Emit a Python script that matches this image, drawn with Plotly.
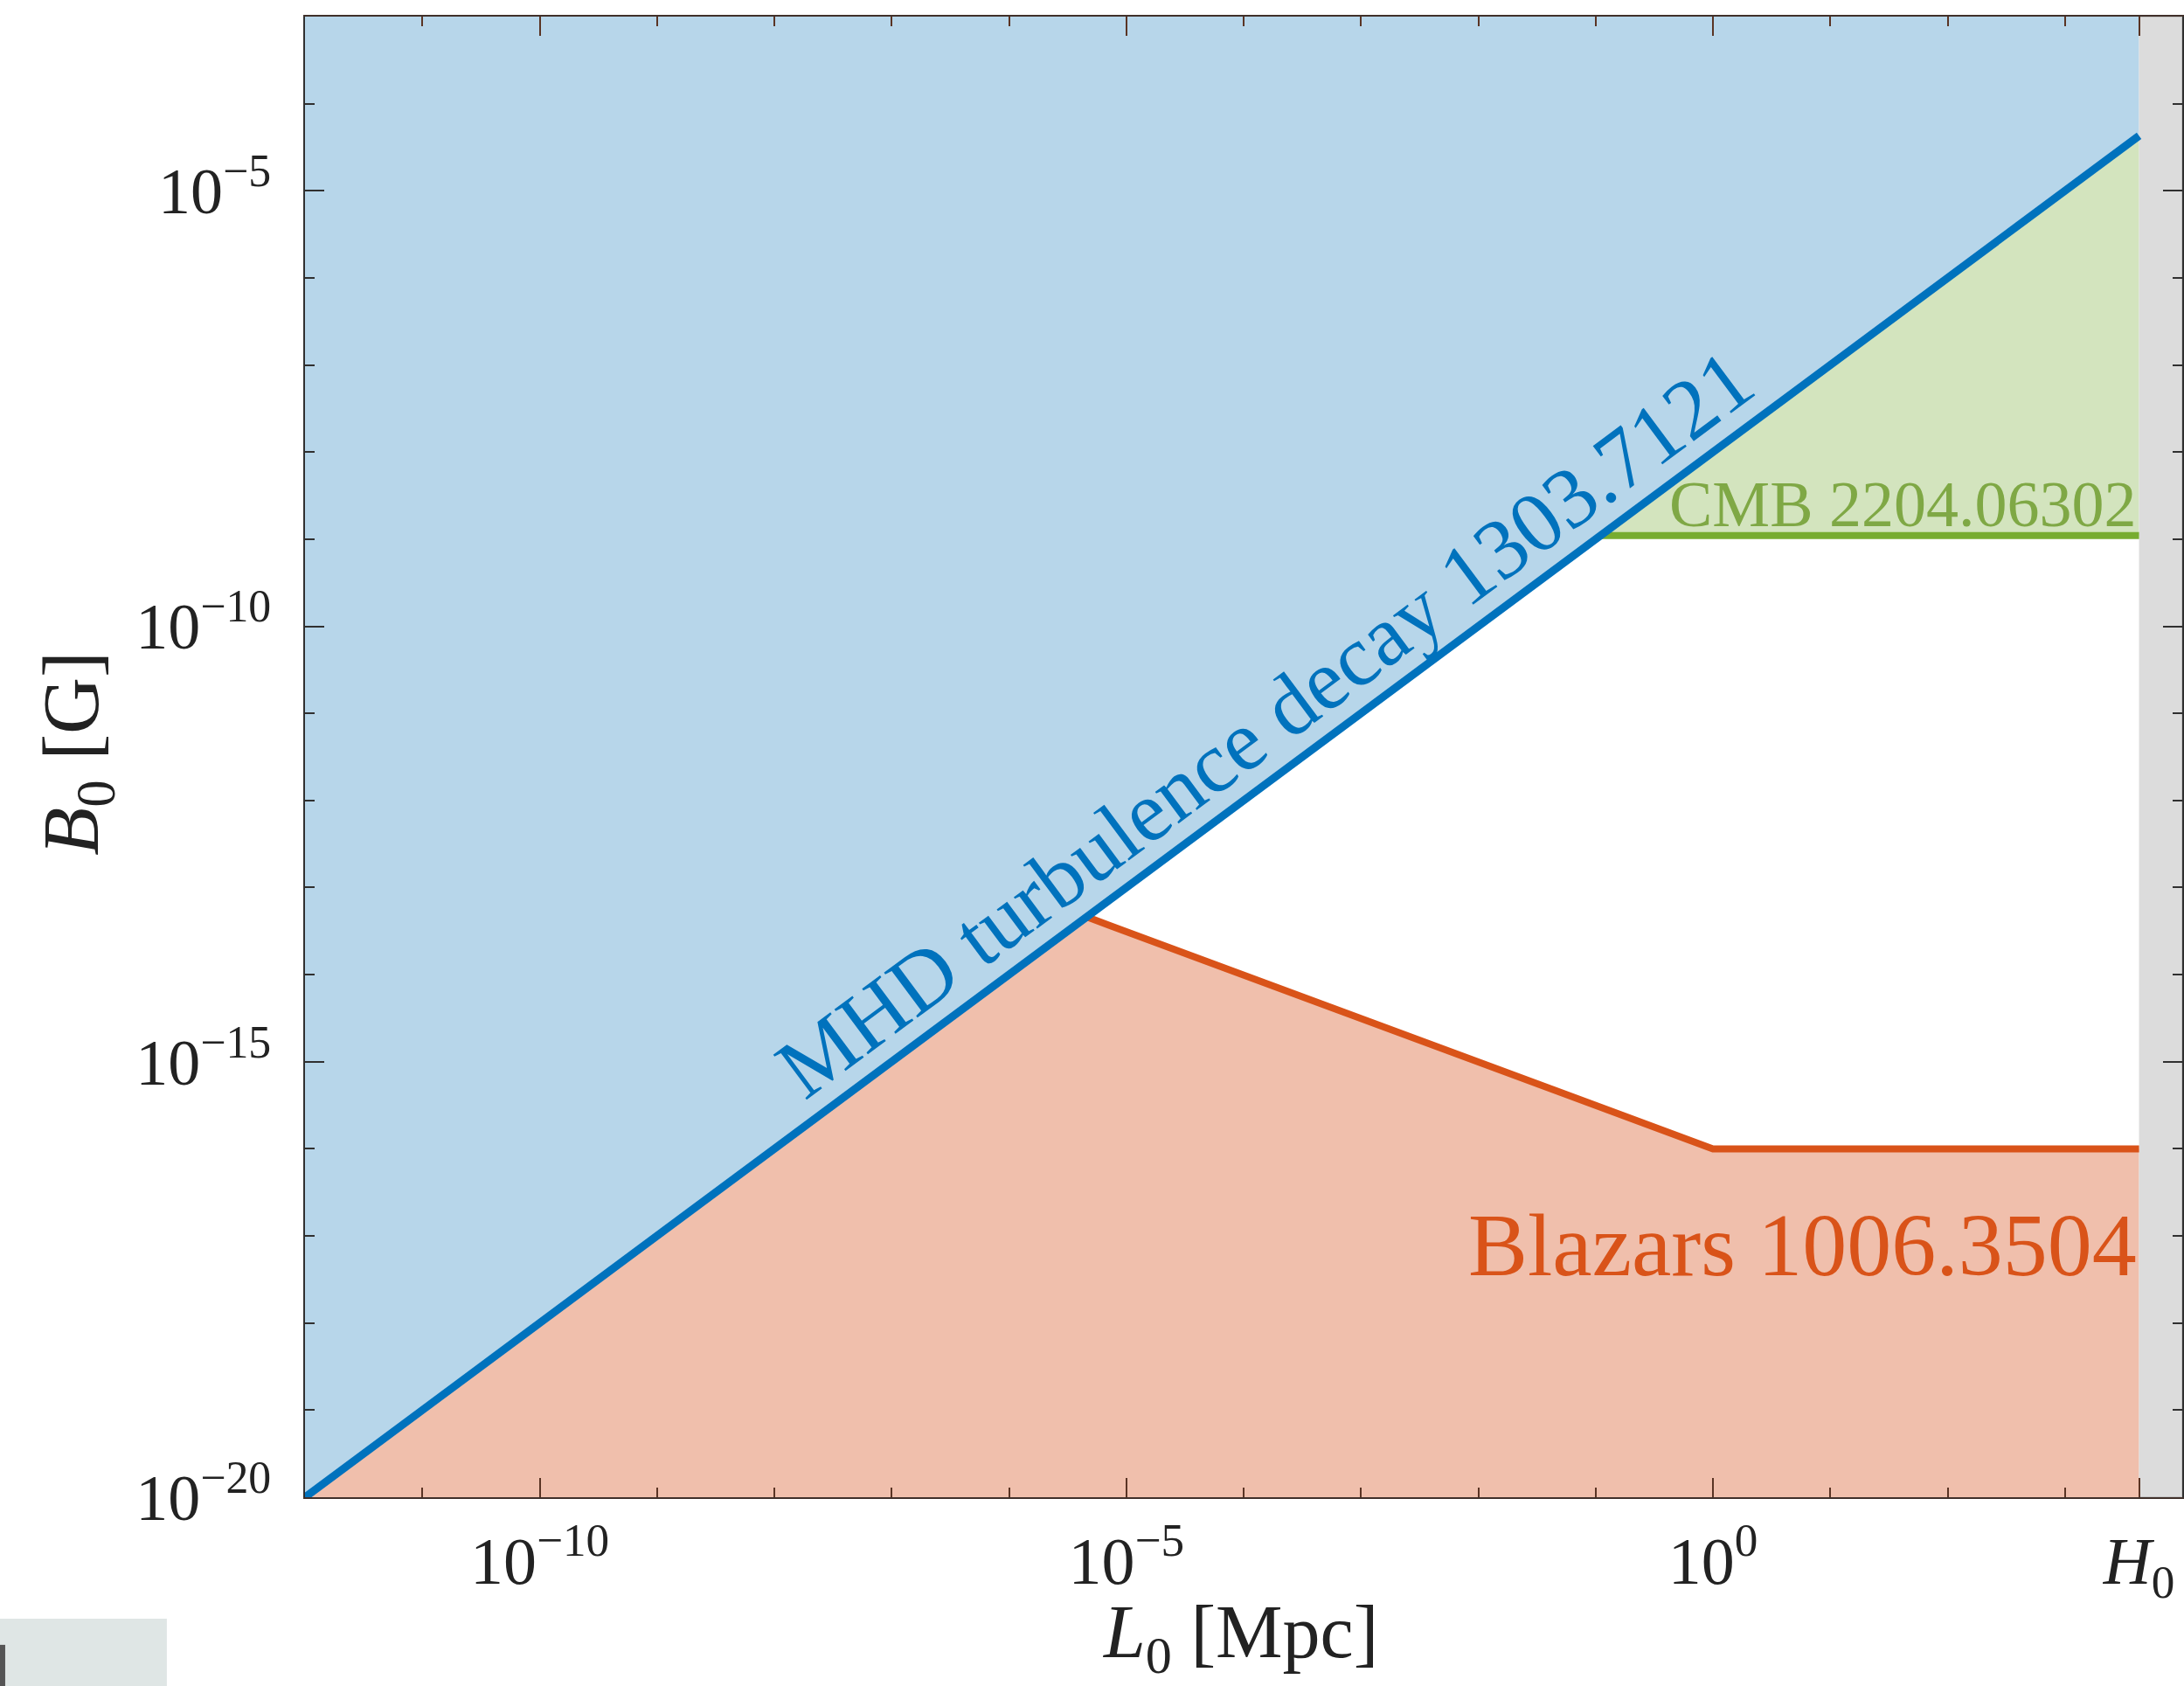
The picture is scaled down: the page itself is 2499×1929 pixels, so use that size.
import plotly.graph_objects as go

# ---- data (L0 in Mpc, B0 in Gauss) ----
x_range_log = [-12, 4]
y_range_log = [-20, -3]
L_min, L_max = 1e-12, 1e4
B_min, B_max = 1e-20, 1e-3
L_hubble = 4283.0  # c/H0 in Mpc

mhd_L = [1e-12, 4283.0]
mhd_B = [1e-20, 4.283e-5]

blazar_L = [4.6e-6, 1.0, 4283.0]
blazar_B = [4.6e-14, 1e-16, 1e-16]

cmb_L = [0.11, 4283.0]
cmb_B = [1.1e-9, 1.1e-9]

x_tickvals = [1e-10, 1e-5, 1.0, 4283.0]
x_ticktext = ["10<sup>−10</sup>", "10<sup>−5</sup>", "10<sup>0</sup>", "<i>H</i><sub>0</sub>"]
x_minor = [1e-11, 1e-9, 1e-8, 1e-7, 1e-6, 1e-4, 1e-3, 1e-2, 1e-1, 1e1, 1e2, 1e3]
y_tickvals = [1e-20, 1e-15, 1e-10, 1e-5]
y_ticktext = ["10<sup>−20</sup>", "10<sup>−15</sup>", "10<sup>−10</sup>", "10<sup>−5</sup>"]
y_minor = [10.0 ** k for k in range(-19, -3) if k % 5 != 0]

x_title = "<i>L</i><sub>0</sub> [Mpc]"
y_title = "<i>B</i><sub>0</sub> [G]"

# colours
blue_fill, blue_line = "#b7d6ea", "#0072bd"
orange_fill, orange_line = "#f0bfac", "#d95319"
green_fill, green_line, green_text = "#d3e4be", "#77ac30", "#7fa845"
grey_band = "#dcdcdc"
FONT = "Liberation Serif"

fig = go.Figure()

# blue excluded region (above MHD line)
fig.add_trace(go.Scatter(
    x=[mhd_L[0], mhd_L[1], mhd_L[1], mhd_L[0]],
    y=[mhd_B[0], mhd_B[1], B_max, B_max],
    fill="toself", fillcolor=blue_fill, mode="none", hoverinfo="skip"))

# orange blazar region
fig.add_trace(go.Scatter(
    x=[mhd_L[0]] + blazar_L + [blazar_L[-1]],
    y=[B_min] + blazar_B + [B_min],
    fill="toself", fillcolor=orange_fill, mode="none", hoverinfo="skip"))

# green CMB region
fig.add_trace(go.Scatter(
    x=[cmb_L[0], cmb_L[1], mhd_L[-1]],
    y=[cmb_B[0], cmb_B[1], mhd_B[-1]],
    fill="toself", fillcolor=green_fill, mode="none", hoverinfo="skip"))

# grey band beyond the Hubble radius
fig.add_trace(go.Scatter(
    x=[L_hubble, L_max, L_max, L_hubble],
    y=[B_min, B_min, B_max, B_max],
    fill="toself", fillcolor=grey_band, mode="lines",
    line=dict(color="#c4c4c4", width=2), hoverinfo="skip"))

# boundary lines
fig.add_trace(go.Scatter(x=blazar_L, y=blazar_B, mode="lines",
                         line=dict(color=orange_line, width=8), hoverinfo="skip"))
fig.add_trace(go.Scatter(x=cmb_L, y=cmb_B, mode="lines",
                         line=dict(color=green_line, width=8), hoverinfo="skip"))
fig.add_trace(go.Scatter(x=mhd_L, y=mhd_B, mode="lines",
                         line=dict(color=blue_line, width=9), hoverinfo="skip"))

annotations = [
    dict(x=-3.82, y=-11.12, xref="x", yref="y", text="MHD turbulence decay 1303.7121",
         showarrow=False, textangle=-36.6, font=dict(family=FONT, size=98, color=blue_line)),
    dict(x=3.63, y=-17.1, xref="x", yref="y", text="Blazars 1006.3504", xanchor="right",
         showarrow=False, font=dict(family=FONT, size=102, color=orange_line)),
    dict(x=3.63, y=-8.6, xref="x", yref="y", text="CMB 2204.06302", xanchor="right",
         showarrow=False, font=dict(family=FONT, size=74, color=green_text)),
    # axis titles
    dict(x=0.498, y=-0.0945, xref="paper", yref="paper", text=x_title, showarrow=False,
         xanchor="center", yanchor="middle",
         font=dict(family=FONT, size=86, color="#222222")),
    dict(x=-0.121, y=0.5025, xref="paper", yref="paper", text=y_title, showarrow=False,
         textangle=-90, xanchor="center", yanchor="middle",
         font=dict(family=FONT, size=90, color="#222222")),
]

axis_common = dict(
    type="log", showgrid=False, zeroline=False, showline=True, linewidth=2,
    ticks="inside", ticklen=22, tickwidth=2, mirror="ticks", automargin=False,
)

fig.update_layout(
    width=2499, height=1929,
    margin=dict(l=349, r=2, t=19, b=216),
    paper_bgcolor="white", plot_bgcolor="white",
    showlegend=False,
    annotations=annotations,
    shapes=[dict(type="rect", xref="paper", yref="paper",
                 x0=-0.1625, x1=-0.0736, y0=-0.1275, y1=-0.0821,
                 fillcolor="#dfe6e5", line=dict(width=0), layer="above"),
            dict(type="rect", xref="paper", yref="paper",
                 x0=-0.1625, x1=-0.1597, y0=-0.1275, y1=-0.0997,
                 fillcolor="#555555", line=dict(width=0), layer="above")],
    xaxis=dict(**axis_common, range=x_range_log, linecolor="#40302a", tickcolor="#5a3424",
               tickmode="array", tickvals=x_tickvals, ticktext=x_ticktext,
               ticklabelstandoff=6,
               tickfont=dict(family=FONT, size=76, color="#222222"),
               minor=dict(tickmode="array", tickvals=x_minor, ticklen=11, tickwidth=2,
                          ticks="inside", tickcolor="#5a3424")),
    yaxis=dict(**axis_common, range=y_range_log, linecolor="#303030", tickcolor="#303030",
               tickmode="array", tickvals=y_tickvals, ticktext=y_ticktext,
               ticklabelstandoff=22,
               tickfont=dict(family=FONT, size=74, color="#222222"),
               minor=dict(tickmode="array", tickvals=y_minor, ticklen=11, tickwidth=2,
                          ticks="inside", tickcolor="#303030")),
)

fig.write_html("out.html")
